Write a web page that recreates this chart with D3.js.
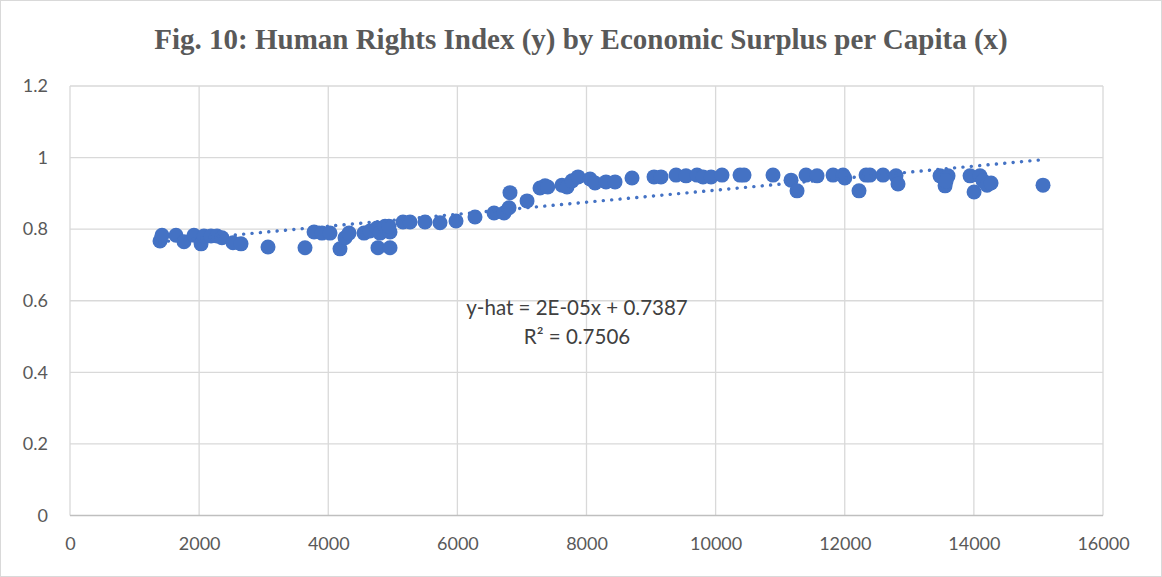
<!DOCTYPE html>
<html>
<head>
<meta charset="utf-8">
<script src="https://cdn.jsdelivr.net/npm/d3@7"></script>
<style>
  body { margin: 0; background: #fff; }
  svg { display: block; }
</style>
</head>
<body>
<svg id="chart" width="1162" height="577"></svg>
<script>
// economic surplus per capita (x) and human rights index (y)
let surplus = [1394, 1425, 1642, 1766, 1920, 2030, 2075, 2184, 2277, 2354, 2525, 2649, 3067, 3640,
  3780, 3903, 4027, 4182, 4260, 4322, 4554, 4647, 4755, 4770, 4802, 4880, 4957, 4957, 4940,
  5158, 5267, 5499, 5731, 5979, 6273, 6568, 6723, 6800, 6815, 7079, 7280, 7358, 7400,
  7621, 7698, 7776, 7869, 8055, 8132, 8302, 8442, 8705, 9046, 9154, 9387, 9541, 9712, 9805,
  9929, 10099, 10378, 10440, 10889, 11168, 11261, 11400, 11571, 11819, 11974, 12000, 12221,
  12330, 12390, 12593, 12794, 12825, 13476, 13554, 13600, 13570, 13941, 14003, 14095, 14142,
  14204, 14266, 15071];
let hri = [0.767, 0.783, 0.783, 0.765, 0.783, 0.759, 0.781, 0.781, 0.781, 0.776, 0.762, 0.759, 0.750, 0.748,
  0.792, 0.789, 0.789, 0.745, 0.776, 0.789, 0.789, 0.795, 0.803, 0.748, 0.789, 0.808, 0.748, 0.792, 0.808,
  0.820, 0.820, 0.820, 0.818, 0.823, 0.834, 0.845, 0.845, 0.860, 0.902, 0.879, 0.915, 0.921, 0.918,
  0.923, 0.918, 0.935, 0.946, 0.940, 0.929, 0.932, 0.932, 0.943, 0.946, 0.946, 0.951, 0.949, 0.951, 0.946,
  0.946, 0.951, 0.951, 0.951, 0.951, 0.937, 0.907, 0.951, 0.949, 0.951, 0.951, 0.943, 0.907,
  0.951, 0.951, 0.951, 0.949, 0.926, 0.949, 0.921, 0.949, 0.935, 0.949, 0.904, 0.949, 0.935,
  0.923, 0.929, 0.923];

let xTicks = [0, 2000, 4000, 6000, 8000, 10000, 12000, 14000, 16000];
let yTicks = [0, 0.2, 0.4, 0.6, 0.8, 1, 1.2];
let title = "Fig. 10: Human Rights Index (y) by Economic Surplus per Capita (x)";
let eqLines = ["y-hat = 2E-05x + 0.7387", "R\u00b2 = 0.7506"];

let svg = d3.select("#chart");
let width = +svg.attr("width");
let height = +svg.attr("height");

// chart border
svg.append("rect").attr("x", 0.5).attr("y", 0.5).attr("width", width - 1).attr("height", height - 1)
    .attr("fill", "#fff").attr("stroke", "#d9d9d9");

let x = d3.scaleLinear().domain([0, 16000]).range([70, 1103]);
let y = d3.scaleLinear().domain([0, 1.2]).range([515.5, 86]);

// gridlines
svg.append("g").selectAll("line").data(yTicks.filter(d => d > 0)).join("line")
    .attr("x1", x(0)).attr("x2", x(16000))
    .attr("y1", d => y(d)).attr("y2", d => y(d))
    .attr("stroke", "#d9d9d9").attr("stroke-width", 1.3);
svg.append("g").selectAll("line").data(xTicks).join("line")
    .attr("x1", d => x(d)).attr("x2", d => x(d))
    .attr("y1", y(0)).attr("y2", y(1.2))
    .attr("stroke", "#d9d9d9").attr("stroke-width", 1.3);
svg.append("line").attr("x1", x(0)).attr("x2", x(16000)).attr("y1", y(0)).attr("y2", y(0))
    .attr("stroke", "#bfbfbf").attr("stroke-width", 1.5);

// axes labels
let xAxis = d3.axisBottom(x).tickValues(xTicks).tickSize(0).tickPadding(22).tickFormat(d3.format("d"));
let yAxis = d3.axisLeft(y).tickValues(yTicks).tickSize(0).tickPadding(22).tickFormat(d => d);
svg.append("g").attr("transform", "translate(0," + y(0) + ")").call(xAxis)
    .call(g => g.select(".domain").remove());
svg.append("g").attr("transform", "translate(" + x(0) + ",0)").call(yAxis)
    .call(g => g.select(".domain").remove());
svg.selectAll(".tick text")
    .attr("font-family", "Lato, 'Open Sans', sans-serif").attr("font-size", 18).attr("fill", "#595959");

// trendline (least squares on the points)
let n = surplus.length;
let mx = d3.mean(surplus), my = d3.mean(hri);
let slope = d3.sum(surplus, (v, i) => (v - mx) * (hri[i] - my)) / d3.sum(surplus, v => (v - mx) * (v - mx));
let intercept = my - slope * mx;
let ext = d3.extent(surplus);

// points
svg.append("g").selectAll("circle").data(d3.range(n)).join("circle")
    .attr("cx", i => x(surplus[i])).attr("cy", i => y(hri[i])).attr("r", 7.5)
    .attr("fill", "#4472c4");

svg.append("line")
    .attr("x1", x(ext[0])).attr("y1", y(slope * ext[0] + intercept))
    .attr("x2", x(ext[1])).attr("y2", y(slope * ext[1] + intercept))
    .attr("stroke", "#4472c4").attr("stroke-width", 3.4)
    .attr("stroke-linecap", "round")
    .attr("stroke-dasharray", "0.1 8.3");

// equation label
svg.append("g").selectAll("text").data(eqLines).join("text")
    .attr("x", 577).attr("y", (d, i) => 315 + i * 29)
    .attr("text-anchor", "middle")
    .attr("font-family", "Lato, 'Open Sans', sans-serif").attr("font-size", 20.5).attr("fill", "#404040")
    .text(d => d);

// title
svg.append("text").attr("x", 581).attr("y", 49).attr("text-anchor", "middle")
    .attr("font-family", "'Liberation Serif', 'Times New Roman', serif").attr("font-weight", "bold")
    .attr("font-size", 29).attr("fill", "#595959")
    .text(title);
</script>
</body>
</html>
